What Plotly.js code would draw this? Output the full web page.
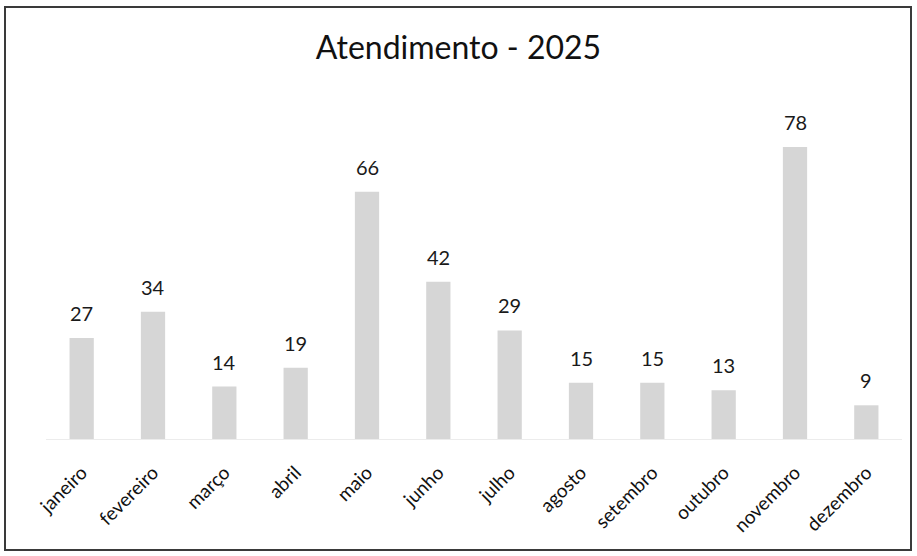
<!DOCTYPE html>
<html><head><meta charset="utf-8">
<script src="https://cdn.plot.ly/plotly-3.0.1.min.js"></script>
<style>
html,body{margin:0;padding:0;background:#fff;}
#frame{position:absolute;left:4px;top:6px;width:908px;height:545px;border:2px solid #3a3a3a;box-sizing:border-box;}
#chart{position:absolute;left:0;top:0;width:917px;height:556px;}
</style></head>
<body>
<div id="chart"></div>
<div id="frame"></div>
<script>
const months = ["janeiro","fevereiro","março","abril","maio","junho","julho","agosto","setembro","outubro","novembro","dezembro"];
const values = [27,34,14,19,66,42,29,15,15,13,78,9];
const chartTitle = "Atendimento - 2025";

const annotations = months.map((m,i)=>({
  x: m, y: values[i], xref:'x', yref:'y', text: String(values[i]),
  showarrow:false, yanchor:'bottom', yshift:11,
  font:{family:'Lato, "Open Sans", sans-serif', size:20, color:'#1a1a1a'}
}));

Plotly.newPlot('chart',[{
  type:'bar', x: months, y: values,
  marker:{color:'#d6d6d6'}, hoverinfo:'none'
}],{
  width:917, height:556,
  margin:{l:46,r:15,t:102,b:117},
  paper_bgcolor:'rgba(0,0,0,0)', plot_bgcolor:'#fff',
  bargap:0.66,
  title:{text:chartTitle, x:0.5, xanchor:'center', y:0.914, yanchor:'middle', yref:'container',
    font:{family:'Lato, "Open Sans", sans-serif', size:32, color:'#111'}},
  xaxis:{tickangle:-45, showline:true, linecolor:'#ececec', linewidth:1, ticks:'', ticklen:0,
    ticklabelstandoff:14,
    tickfont:{family:'Lato, "Open Sans", sans-serif', size:19, color:'#111'}, fixedrange:true},
  yaxis:{range:[0,90], visible:false, showgrid:false, zeroline:false, fixedrange:true},
  annotations: annotations,
  showlegend:false
},{staticPlot:true});
</script>
</body></html>
